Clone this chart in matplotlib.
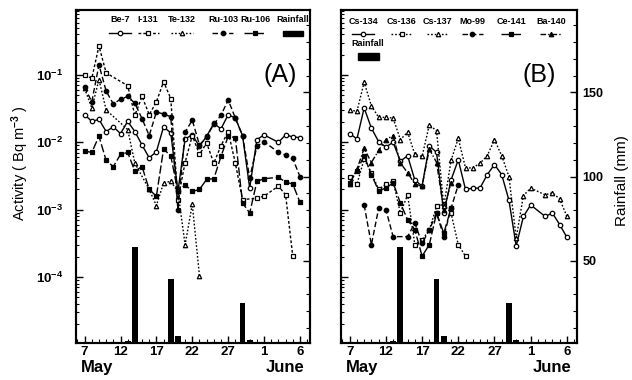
import numpy as np
import matplotlib
matplotlib.use('Agg')
import matplotlib.pyplot as plt
from matplotlib.ticker import FixedLocator, MultipleLocator, FuncFormatter, NullFormatter
from matplotlib.transforms import blended_transform_factory
from matplotlib.patches import Rectangle

plt.rcParams['font.family'] = ['Liberation Sans', 'DejaVu Sans']
plt.rcParams['mathtext.fontset'] = 'custom'
plt.rcParams['mathtext.rm'] = 'Liberation Sans:bold'
plt.rcParams['mathtext.it'] = 'Liberation Sans:bold'
plt.rcParams['mathtext.bf'] = 'Liberation Sans:bold'
plt.rcParams['mathtext.default'] = 'rm'

# days counted from 1 May (32 = 1 June)
tick_days = [7, 12, 17, 22, 27, 32, 37]
tick_labels = ['7', '12', '17', '22', '27', '1', '6']

# rainfall (mm), same in both panels
rain_days = [13, 14, 19, 20, 29, 30]
rain_mm = [2, 58, 39, 5, 25, 3]

# ---- panel A, log10 of activity (Bq m-3) ----
be7_days = list(range(7, 33)) + [34, 35, 36, 37]
be7_log = [-1.59, -1.69, -1.66, -1.84, -1.77, -1.87, -1.69, -1.84, -2.04, -2.23,
           -2.14, -1.77, -1.86, -2.73, -1.95, -1.89, -2.06, -1.91, -1.72, -1.80,
           -1.59, -1.64, -1.90, -2.68, -1.96, -1.89, -2.00, -1.89, -1.92, -1.93]

i131_days = [7, 8, 9, 10, 13, 14, 15, 16, 17, 18, 19, 20, 21, 22, 23, 24, 25, 26,
             27, 28, 29, 31, 32, 34, 35, 36]
i131_log = [-1.00, -1.05, -0.57, -0.97, -1.16, -1.60, -1.32, -1.59, -1.40, -1.10,
            -1.35, -2.85, -2.30, -1.90, -2.18, -2.01, -2.31, -2.05, -1.84, -2.31,
            -2.85, -2.83, -2.80, -2.65, -2.78, -3.69]

te132_days = [7, 8, 9, 10, 13, 14, 16, 17, 18, 19, 20, 21, 22, 23]
te132_log = [-1.20, -1.49, -1.07, -1.52, -1.81, -2.31, -2.70, -2.94, -2.60, -2.58,
             -2.73, -3.52, -2.92, -3.98]

ru103_days = list(range(7, 33)) + [34, 35, 36, 37]
ru103_log = [-1.18, -1.40, -0.85, -1.24, -1.43, -1.36, -1.32, -1.42, -1.65, -1.90,
             -1.55, -1.58, -1.62, -3.00, -1.85, -1.67, -2.04, -1.92, -1.73, -1.60,
             -1.37, -1.64, -1.90, -2.53, -2.06, -1.99, -2.15, -2.19, -2.24, -2.51]

ru106_days = list(range(7, 33)) + [34, 35, 36, 37]
ru106_log = [-2.13, -2.15, -1.91, -2.27, -2.36, -2.18, -2.15, -2.43, -2.36, -2.70,
             -2.80, -2.10, -2.20, -2.73, -2.63, -2.73, -2.70, -2.55, -2.54, -2.21,
             -1.91, -1.93, -2.90, -3.05, -2.58, -2.54, -2.52, -2.59, -2.62, -2.89]

# ---- panel B ----
cs134_days = list(range(7, 33)) + [34, 35, 36, 37]
cs134_log = [-1.87, -1.95, -1.49, -1.79, -1.99, -2.07, -2.00, -2.28, -2.20, -2.56,
             -2.65, -2.05, -2.15, -3.05, -2.56, -2.26, -2.70, -2.68, -2.68, -2.48,
             -2.33, -2.48, -2.86, -3.54, -3.10, -2.93, -3.10, -3.05, -3.22, -3.41]

cs136_days = list(range(7, 24))
cs136_log = [-2.52, -2.62, -2.25, -2.45, -2.70, -2.62, -2.58, -3.05, -2.78, -3.52,
             -3.45, -3.30, -2.95, -2.92, -3.05, -3.52, -3.69]

cs137_days = list(range(7, 33)) + [34, 35, 36, 37]
cs137_log = [-1.52, -1.54, -1.11, -1.46, -1.63, -1.63, -1.64, -1.96, -1.85, -2.18,
             -2.21, -1.74, -1.83, -2.95, -2.27, -1.94, -2.38, -2.38, -2.31, -2.20,
             -1.96, -2.20, -2.51, -3.42, -2.79, -2.68, -2.78, -2.75, -2.84, -3.10]

mo99_days = [9, 10, 11, 12, 13, 15, 16, 17, 18, 19, 20, 21, 22]
mo99_log = [-2.93, -3.52, -2.98, -3.00, -3.40, -3.40, -3.20, -3.50, -3.30, -3.05,
            -3.40, -2.98, -2.63]

ce141_days = list(range(7, 22))
ce141_log = [-2.60, -2.42, -2.20, -2.48, -2.72, -2.68, -2.60, -2.90, -3.15, -3.30,
             -3.69, -3.52, -3.05, -3.35, -2.98]

ba140_days = list(range(7, 22))
ba140_log = [-2.62, -2.40, -2.09, -2.30, -2.12, -1.96, -1.90, -2.31, -2.45, -2.62,
             -2.65, -2.10, -2.30, -3.00, -2.60]

dotted = (0, (1.2, 1.4))
dashed = (0, (4, 2))
longdash = (0, (6, 2))
dashdot = (0, (4, 1.5, 1, 1.5))

series_a = [
    ('Be-7', be7_days, be7_log, '-', 'o', False),
    ('I-131', i131_days, i131_log, (0, (2, 1.5)), 's', False),
    ('Te-132', te132_days, te132_log, dotted, '^', False),
    ('Ru-103', ru103_days, ru103_log, dashed, 'o', True),
    ('Ru-106', ru106_days, ru106_log, longdash, 's', True),
]
series_b = [
    ('Cs-134', cs134_days, cs134_log, '-', 'o', False),
    ('Cs-136', cs136_days, cs136_log, dotted, 's', False),
    ('Cs-137', cs137_days, cs137_log, dotted, '^', False),
    ('Mo-99', mo99_days, mo99_log, dashed, 'o', True),
    ('Ce-141', ce141_days, ce141_log, longdash, 's', True),
    ('Ba-140', ba140_days, ba140_log, dashdot, '^', True),
]

fig = plt.figure(figsize=(6.32, 3.8), dpi=100)
ax_a = fig.add_axes([76 / 632, 37 / 380, 234 / 632, 333 / 380])
ax_b = fig.add_axes([341 / 632, 37 / 380, 236 / 632, 333 / 380])


def log_label(v, pos):
    e = int(round(np.log10(v)))
    if -4 <= e <= -1:
        return r'$10^{%d}$' % e
    return ''


def style_panel(ax, show_left):
    ax.set_yscale('log')
    ax.set_ylim(1.05e-5, 0.92)
    ax.set_xlim(5.8, 38.4)
    ax.yaxis.set_major_locator(FixedLocator([1e-5, 1e-4, 1e-3, 1e-2, 1e-1, 1.0]))
    minors = [m * 10.0 ** e for e in range(-5, 0) for m in range(2, 10)]
    ax.yaxis.set_minor_locator(FixedLocator(minors))
    ax.yaxis.set_minor_formatter(NullFormatter())
    if show_left:
        ax.yaxis.set_major_formatter(FuncFormatter(log_label))
    else:
        ax.yaxis.set_major_formatter(NullFormatter())
    ax.xaxis.set_major_locator(FixedLocator(tick_days))
    ax.set_xticklabels(tick_labels, fontsize=9.5, fontweight='bold')
    ax.xaxis.set_minor_locator(MultipleLocator(1))
    ax.tick_params(axis='x', which='major', direction='in', length=5, width=1, pad=2)
    ax.tick_params(axis='x', which='minor', direction='in', length=3, width=0.8)
    ax.tick_params(axis='y', which='major', direction='in', length=5, width=1,
                   pad=9, labelsize=9.5)
    ax.tick_params(axis='y', which='minor', direction='in', length=2.5, width=0.8)
    for sp in ax.spines.values():
        sp.set_linewidth(1.5)
    trans = blended_transform_factory(ax.transData, ax.transAxes)
    ax.text(6.5, -0.075, 'May', transform=trans, fontsize=12, fontweight='bold',
            ha='left', va='center')
    ax.text(37.6, -0.075, 'June', transform=trans, fontsize=12, fontweight='bold',
            ha='right', va='center')


def draw_rain(ax, show_labels):
    ax2 = ax.twinx()
    ax2.bar(rain_days, rain_mm, width=0.8, color='black', zorder=1)
    ax2.set_ylim(1, 199)
    ax2.set_xlim(5.8, 38.4)
    ax2.yaxis.set_major_locator(FixedLocator([50, 100, 150]))
    ax2.yaxis.set_minor_locator(MultipleLocator(10))
    ax2.tick_params(axis='y', which='major', direction='in', length=5, width=1,
                    pad=4, labelsize=9)
    ax2.tick_params(axis='y', which='minor', direction='in', length=3, width=0.8)
    if not show_labels:
        ax2.yaxis.set_major_formatter(NullFormatter())
    else:
        for lab in ax2.get_yticklabels():
            lab.set_fontweight('bold')
    for sp in ax2.spines.values():
        sp.set_linewidth(1.5)
    return ax2


def draw_series(ax, series):
    for name, days, logv, ls, mk, filled in series:
        ax.plot(days, 10.0 ** np.array(logv), linestyle=ls, color='black', lw=1.0,
                marker=mk, ms=3.2, mfc='black' if filled else 'white', mec='black',
                mew=0.9, zorder=3)


def legend_row(ax, series, xs, y_text, y_line):
    for (name, days, logv, ls, mk, filled), x in zip(series, xs):
        ax.text(x, y_text, name, transform=ax.transAxes, fontsize=6.5,
                fontweight='bold', ha='center', va='center')
        ax.plot([x - 0.045, x + 0.045], [y_line, y_line], transform=ax.transAxes,
                linestyle=ls, color='black', lw=1.0, clip_on=False)
        ax.plot([x], [y_line], transform=ax.transAxes, marker=mk, ms=3.2,
                mfc='black' if filled else 'white', mec='black', mew=0.9,
                linestyle='none', clip_on=False)


style_panel(ax_a, True)
style_panel(ax_b, False)
rain_a = draw_rain(ax_a, False)
rain_b = draw_rain(ax_b, True)

# series on top of the rain axes
for ax, rain, series in [(ax_a, rain_a, series_a), (ax_b, rain_b, series_b)]:
    ax.set_zorder(rain.get_zorder() + 1)
    ax.patch.set_visible(False)
    draw_series(ax, series)

# legends
legend_row(ax_a, series_a, [0.188, 0.308, 0.453, 0.628, 0.765], 0.970, 0.931)
ax_a.text(0.927, 0.970, 'Rainfall', transform=ax_a.transAxes, fontsize=6.5,
          fontweight='bold', ha='center', va='center')
ax_a.add_patch(Rectangle((0.885, 0.922), 0.085, 0.016, transform=ax_a.transAxes,
                         color='black', clip_on=False))

legend_row(ax_b, series_b, [0.093, 0.257, 0.409, 0.557, 0.722, 0.890], 0.964, 0.928)
ax_b.text(0.114, 0.899, 'Rainfall', transform=ax_b.transAxes, fontsize=6.5,
          fontweight='bold', ha='center', va='center')
ax_b.add_patch(Rectangle((0.072, 0.850), 0.09, 0.02, transform=ax_b.transAxes,
                         color='black', clip_on=False))

ax_a.text(0.872, 0.805, '(A)', transform=ax_a.transAxes, fontsize=18,
          ha='center', va='center')
ax_b.text(0.84, 0.805, '(B)', transform=ax_b.transAxes, fontsize=18,
          ha='center', va='center')

fig.text(0.032, 0.57, r'Activity ( Bq m$^{-3}$ )', rotation=90, fontsize=10.5,
         ha='center', va='center')
fig.text(0.984, 0.526, 'Rainfall (mm)', rotation=90, fontsize=11,
         ha='center', va='center')

fig.savefig('out.png', dpi=100, facecolor='white')
